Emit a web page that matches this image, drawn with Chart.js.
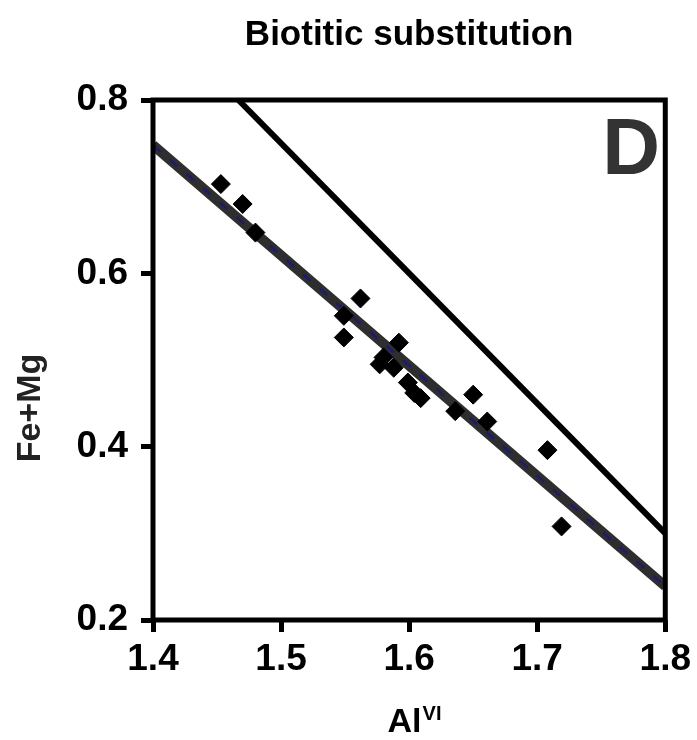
<!DOCTYPE html>
<html>
<head>
<meta charset="utf-8">
<script src="https://cdn.jsdelivr.net/npm/chart.js@4.4.1/dist/chart.umd.min.js"></script>
<style>
  html, body { margin: 0; padding: 0; background: #fff; }
  #wrap { width: 697px; height: 740px; }
</style>
</head>
<body>
<div id="wrap"><canvas id="chart" width="697" height="740"></canvas></div>
<script>
// Biotitic substitution, panel D
const alVI = [1.453, 1.470, 1.480, 1.562, 1.549, 1.549, 1.592, 1.580, 1.577, 1.588, 1.599, 1.604, 1.609, 1.650, 1.636, 1.661, 1.708, 1.719];
const feMg = [0.703, 0.680, 0.647, 0.571, 0.551, 0.526, 0.520, 0.503, 0.495, 0.491, 0.474, 0.462, 0.456, 0.460, 0.441, 0.429, 0.396, 0.308];

// regression fit (dashed) and ideal substitution line (solid)
const fitX = [1.4, 1.8];
const fitY = [0.748, 0.239];
const idealX = [1.4667, 1.8];
const idealY = [0.8, 0.3];

const xTicks = [1.4, 1.5, 1.6, 1.7, 1.8];
const yTicks = [0.2, 0.4, 0.6, 0.8];

const toPts = (xs, ys) => xs.map((x, i) => ({ x: x, y: ys[i] }));

const FONT = "'Liberation Sans', Arial, sans-serif";

// frame, titles and panel letter
const decor = {
    id: 'decor',
    afterDatasetsDraw(chart) {
        const { ctx, chartArea: a } = chart;
        ctx.save();
        ctx.strokeStyle = '#000';
        ctx.lineWidth = 5;
        ctx.strokeRect(a.left, a.top, a.right - a.left, a.bottom - a.top);

        ctx.fillStyle = '#000';
        ctx.font = 'bold 35px ' + FONT;
        ctx.textAlign = 'center';
        ctx.textBaseline = 'alphabetic';
        ctx.fillText('Biotitic substitution', (a.left + a.right) / 2, 45);

        // x axis title with superscript
        ctx.font = 'bold 34px ' + FONT;
        const w1 = ctx.measureText('Al').width;
        ctx.font = 'bold 20px ' + FONT;
        const w2 = ctx.measureText('VI').width;
        const x0 = 414 - (w1 + w2) / 2;
        ctx.textAlign = 'left';
        ctx.font = 'bold 34px ' + FONT;
        ctx.fillText('Al', x0, 732);
        ctx.font = 'bold 20px ' + FONT;
        ctx.fillText('VI', x0 + w1 + 1, 720);

        // y axis title
        ctx.save();
        ctx.translate(40, 408);
        ctx.rotate(-Math.PI / 2);
        ctx.fillStyle = '#222';
        ctx.font = 'bold 34px ' + FONT;
        ctx.textAlign = 'center';
        ctx.fillText('Fe+Mg', 0, 0);
        ctx.restore();

        ctx.fillStyle = '#333';
        ctx.font = 'bold 80px ' + FONT;
        ctx.textAlign = 'right';
        ctx.fillText('D', 660, 174);
        ctx.restore();
    }
};

new Chart(document.getElementById('chart'), {
    type: 'scatter',
    data: {
        datasets: [{
            label: 'samples',
            data: toPts(alVI, feMg),
            pointStyle: 'rectRot',
            pointRadius: 9.5,
            backgroundColor: '#000',
            borderColor: '#000',
            order: 0
        }, {
            label: 'fit dashes',
            data: toPts(fitX, fitY),
            showLine: true,
            pointRadius: 0,
            borderColor: '#1c1c6b',
            borderWidth: 2.5,
            borderDash: [10, 12],
            order: 1
        }, {
            label: 'fit',
            data: toPts(fitX, fitY),
            showLine: true,
            pointRadius: 0,
            borderColor: '#2e2e2e',
            borderWidth: 10,
            order: 2
        }, {
            label: 'ideal',
            data: toPts(idealX, idealY),
            showLine: true,
            pointRadius: 0,
            borderColor: '#000',
            borderWidth: 6,
            order: 3
        }]
    },
    options: {
        responsive: false,
        animation: false,
        layout: { padding: { top: 100, right: 30, left: 0, bottom: 0 } },
        plugins: {
            legend: { display: false },
            tooltip: { enabled: false },
            title: { display: false }
        },
        scales: {
            x: {
                type: 'linear',
                min: 1.4,
                max: 1.8,
                afterBuildTicks: s => { s.ticks = xTicks.map(v => ({ value: v })); },
                afterFit: s => { s.height = 120; },
                grid: { drawOnChartArea: false, color: '#000', lineWidth: 5, tickLength: 12 },
                border: { display: false },
                ticks: {
                    color: '#000',
                    padding: 6,
                    font: { family: FONT, size: 37, weight: 'bold' },
                    callback: v => v.toFixed(1)
                }
            },
            y: {
                type: 'linear',
                min: 0.2,
                max: 0.8,
                afterBuildTicks: s => { s.ticks = yTicks.map(v => ({ value: v })); },
                afterFit: s => { s.width = 153; },
                grid: { drawOnChartArea: false, color: '#000', lineWidth: 5, tickLength: 12 },
                border: { display: false },
                ticks: {
                    color: '#000',
                    padding: 13,
                    font: { family: FONT, size: 37, weight: 'bold' },
                    callback: v => v.toFixed(1)
                }
            }
        }
    },
    plugins: [decor]
});
</script>
</body>
</html>
